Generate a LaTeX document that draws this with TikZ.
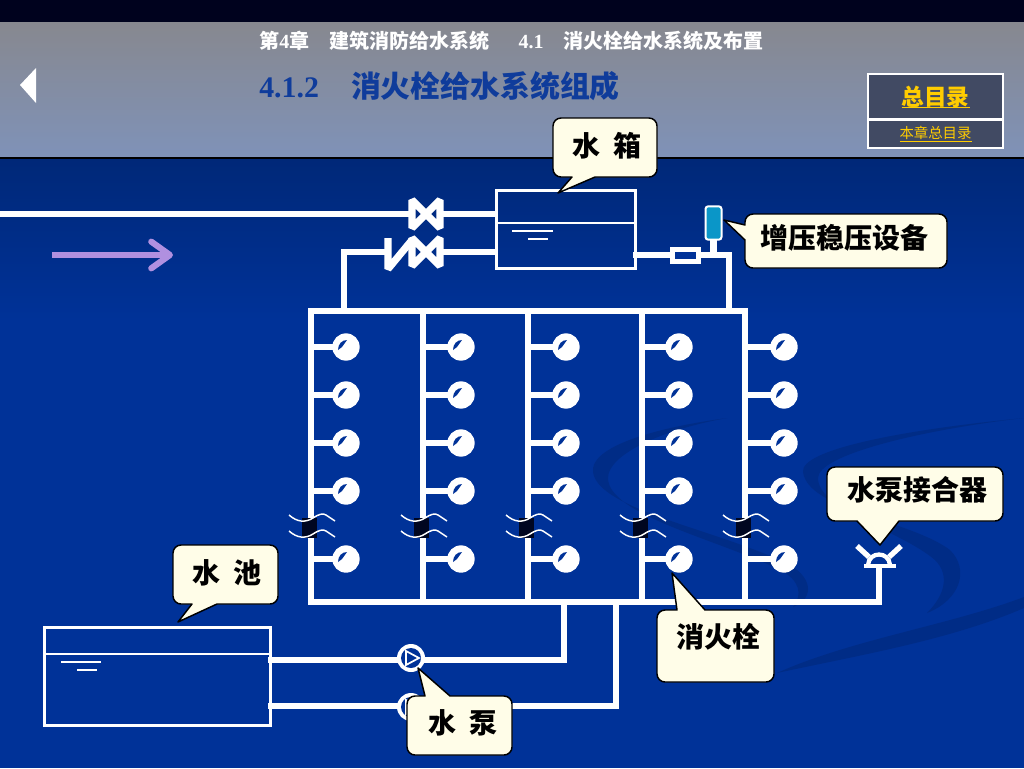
\documentclass[tikz,border=0pt]{standalone}
\usepackage{fontspec}
\setmainfont{Liberation Serif}
\newfontfamily\cjk{Noto Sans CJK SC}
\usetikzlibrary{arrows.meta,positioning}
\definecolor{topbar}{RGB}{0,2,30}
\definecolor{headtop}{RGB}{135,136,143}
\definecolor{headlow}{RGB}{127,146,184}
\definecolor{navytop}{RGB}{0,40,120}
\definecolor{navylow}{RGB}{0,50,152}
\definecolor{swirl}{RGB}{0,44,134}
\definecolor{titleblue}{RGB}{15,60,155}
\definecolor{tocfill}{RGB}{65,74,99}
\definecolor{tocgold}{RGB}{255,204,0}
\definecolor{bubblefill}{RGB}{255,253,232}
\definecolor{flowpurple}{RGB}{176,144,224}
\definecolor{devicecyan}{RGB}{10,150,200}
\definecolor{breakblack}{RGB}{0,6,32}
\tikzset{
	pipe/.style={
		draw=white,
		line width=4.7pt,
		line cap=rect,
		line join=miter
	},
	level/.style={
		draw=white,
		line width=1.2pt
	},
	vessel/.style={
		draw=white,
		line width=2.25pt,
		outer sep=0pt,
		inner sep=0pt
	},
	hydrant/.style={
		circle,
		fill=white,
		minimum size=20.5pt,
		inner sep=0pt,
		path picture={
			\fill[navylow,shift={(path picture bounding box.center)}]
			(-8,3) .. controls (-8,-3) and (-4,-7) .. (1,-7) -- (-4,0) -- cycle;
		}
	},
	pump/.style={
		circle,
		fill=white,
		minimum size=21pt,
		inner sep=0pt,
		path picture={
			\begin{scope}[shift={(path picture bounding box.center)}]
				\fill[navylow] (0,0) circle (10);
				\draw[white,line width=1.3pt,fill=navylow] (-5,-7) -- (8,0) -- (-5,7) -- cycle;
			\end{scope}
		}
	},
	valvestroke/.style={
		draw=white,
		line width=5.4pt,
		line join=bevel
	},
	breakmark/.style={
		rectangle,
		fill=breakblack,
		minimum width=11.25pt,
		minimum height=15pt,
		inner sep=0pt
	},
	wave/.style={
		draw=white,
		line width=1.1pt
	},
	bubble/.style={
		draw=black,
		fill=bubblefill,
		line width=1.1pt,
		line join=round
	},
	bubbletext/.style={
		inner sep=0pt,
		font=\cjk\bfseries\fontsize{21pt}{24pt}\selectfont
	},
	tocbox/.style={
		draw=white,
		line width=1.5pt,
		fill=tocfill,
		text=tocgold,
		inner sep=0pt,
		text depth=0pt,
		minimum width=101pt
	}
}

\begin{document}
\begin{tikzpicture}[x=0.75pt,y=-0.75pt]
	\useasboundingbox (0,0) rectangle (1024,768);
	
	% --- BACKGROUND ---
	\fill[navylow] (0,158) rectangle (1024,768);
	\shade[top color=navytop,bottom color=navylow] (0,158) rectangle (1024,320);
	\fill[swirl] (727,418) .. controls (640,430) and (590,450) .. (593,472)
	.. controls (598,510) and (720,530) .. (790,565)
	.. controls (815,580) and (812,600) .. (793,607)
	.. controls (803,595) and (800,580) .. (780,570)
	.. controls (720,540) and (608,515) .. (608,478)
	.. controls (608,455) and (660,430) .. (727,418) -- cycle;
	\fill[swirl] (1024,418) .. controls (900,430) and (800,450) .. (803,472)
	.. controls (808,510) and (910,520) .. (950,550)
	.. controls (970,570) and (960,600) .. (927,613)
	.. controls (945,595) and (950,575) .. (935,560)
	.. controls (900,530) and (818,510) .. (818,478)
	.. controls (818,455) and (920,430) .. (1024,418) -- cycle;
	\fill[swirl] (1024,597) .. controls (950,625) and (850,640) .. (777,673)
	.. controls (860,655) and (950,640) .. (1024,608) -- cycle;
	
	% --- HEADER ---
	\fill[topbar] (0,0) rectangle (1024,22);
	\shade[top color=headtop,bottom color=headlow] (0,22) rectangle (1024,157);
	\fill[black] (0,157) rectangle (1024,159);
	\fill[white] (36,68) -- (36,103) -- (20,85) -- cycle;
	
	\node[anchor=west,text=white,inner sep=0pt,font=\bfseries\fontsize{15pt}{18pt}\selectfont] (chapterline) at (259,41)
	{{\cjk 第}4{\cjk 章}\hspace{15pt}{\cjk 建筑消防给水系统}\hspace{22pt}4.1\hspace{15pt}{\cjk 消火栓给水系统及布置}};
	\node[anchor=west,text=titleblue,inner sep=0pt,font=\bfseries\fontsize{22.4pt}{26pt}\selectfont] (sectionline) at (259,86)
	{4.1.2\hspace{24pt}{\cjk 消火栓给水系统组成}};
	
	\node[tocbox,minimum height=33.5pt,text height=13pt,font=\cjk\bfseries\fontsize{17pt}{20pt}\selectfont] (tocmain) at (935.5,96.5) {\underline{\smash{总目录}}};
	\node[tocbox,minimum height=21pt,text height=8.2pt,font=\cjk\fontsize{10.8pt}{13pt}\selectfont] (tocsub) at (935.5,133.5) {\underline{\smash{本章总目录}}};
	
	% --- FLOW ARROW ---
	\coordinate (flowstart) at (52,255);
	\coordinate (flowend) at (173,255);
	\draw[flowpurple,line width=4.6pt,-{Straight Barb[length=14pt,width=20pt,round]}] (flowstart) -- (flowend);
	
	% --- ROOF TANK AND VALVES ---
	\node[vessel,minimum width=104pt,minimum height=58pt] (tank) at (566,229.5) {};
	\draw[level] (tank.west |- 0,223) -- (tank.east |- 0,223);
	\draw[level] (512,231) -- (553,231);
	\draw[level] (528,239) -- (548,239);
	
	\coordinate (supply) at (0,214);
	\coordinate (valveAl) at (412,214);
	\coordinate (valveAr) at (440,214);
	\coordinate (valveBl) at (412,252);
	\coordinate (valveBr) at (440,252);
	\coordinate (checkl) at (388,252);
	\coordinate (downleft) at (344,252);
	\coordinate (ringleft) at (344,311);
	\draw[pipe,line cap=butt] (supply) -- (valveAl);
	\draw[pipe,line cap=butt] (valveAr) -- (tank.west |- valveAr);
	\draw[pipe,line cap=butt] (valveBr) -- (tank.west |- valveBr);
	\draw[pipe] (checkl) -- (downleft) -- (ringleft);
	\foreach \yv in {214,252} {
		\draw[valvestroke] (412,\yv-14) -- (440,\yv+14) -- (440,\yv-14) -- (412,\yv+14) -- cycle;
	}
	\draw[valvestroke,line cap=butt] (388,238) -- (388,269) -- (412,240);
	
	% --- PRESSURE DEVICE ---
	\coordinate (tankout) at (636,255);
	\coordinate (downright) at (729,255);
	\coordinate (ringright) at (729,311);
	\coordinate (stemfoot) at (714,255);
	\draw[pipe] (tankout) -- (downright) -- (ringright);
	\node[vessel,draw=white,line width=1.5pt,fill=devicecyan,rounded corners=2pt,minimum width=12pt,minimum height=25pt] (device) at (713.5,223) {};
	\draw[pipe,line cap=butt] (device.south) -- (device.south |- stemfoot);
	\node[vessel,line width=3.75pt,fill=navylow,minimum width=19.5pt,minimum height=9pt] (meter) at (685.5,255) {};
	
	% --- RING MAIN ---
	\coordinate (ringnw) at (311,311);
	\coordinate (ringne) at (745,311);
	\coordinate (ringsw) at (311,602);
	\coordinate (ringse) at (745,602);
	\coordinate (adapterfoot) at (879,602);
	\coordinate (adapterbase) at (879,567);
	\draw[pipe] (ringnw) -- (ringne);
	\draw[pipe] (ringsw) -- (adapterfoot) -- (adapterbase);
	
	% --- RISERS AND HYDRANTS ---
	\foreach \col/\xv/\xh in {a/311/346,b/423/461,c/528/566,d/642/679,e/745/784} {
		\coordinate (top\col) at (\xv,311);
		\coordinate (low\col) at (\xv,602);
		\draw[pipe] (top\col) -- (low\col);
		\foreach \row/\yh in {1/347,2/395,3/443,4/491,5/559} {
			\node[hydrant] (hyd\col\row) at (\xh,\yh) {};
			\coordinate (tee\col\row) at (\xv,\yh);
			\draw[pipe,line width=4pt] (tee\col\row) -- (hyd\col\row);
		}
		\node[breakmark] (brk\col) at (\xv-1.5,528) {};
		\foreach \yw in {0,16} {
			\draw[wave,shift={(\xv,\yw)}] (-22,515) .. controls (-14,522) and (-6,523) .. (2,518)
			.. controls (8,514) and (12,513) .. (15,515) -- (24,521);
		}
	}
	
	% --- PUMP ADAPTER ---
	\draw[pipe,line width=3.6pt] (866,566) -- (894,566);
	\draw[pipe,line width=3.2pt,line cap=butt] (868,565) .. controls (869,551) and (889,551) .. (890,565);
	\draw[pipe,line width=4pt,line cap=butt] (857,546) -- (869,557);
	\draw[pipe,line width=4pt,line cap=butt] (901,546) -- (889,557);
	
	% --- POOL AND PUMPS ---
	\node[vessel,minimum width=170pt,minimum height=74pt] (pool) at (157.5,676.5) {};
	\draw[level] (pool.west |- 0,654) -- (pool.east |- 0,654);
	\draw[level] (61,662) -- (101,662);
	\draw[level] (77,670) -- (97,670);
	
	\coordinate (riserA) at (564,660);
	\coordinate (riserAtop) at (564,602);
	\coordinate (riserB) at (616,706);
	\coordinate (riserBtop) at (616,602);
	\draw[pipe,line width=3.9pt] (pool.east |- riserA) -- (riserA) -- (riserAtop);
	\draw[pipe,line width=3.9pt] (pool.east |- riserB) -- (riserB) -- (riserBtop);
	\node[pump] (pumpA) at (411,658) {};
	\node[pump] (pumpB) at (411,707) {};
	
	% --- CALLOUTS ---
	\draw[bubble,rounded corners=6pt] (553,118) -- (657,118) -- (657,177) [sharp corners] -- (595,177) -- (558,193) -- (572,177) [rounded corners=6pt] -- (553,177) -- cycle;
	\node[bubbletext] (tanktag) at (607,146) {水\hspace{10pt}箱};
	
	\draw[bubble,rounded corners=6pt] (745,214) -- (947,214) -- (947,268) -- (745,268) [sharp corners] -- (745,240) -- (724,220) -- (745,225) [rounded corners=6pt] -- cycle;
	\node[bubbletext] (devicetag) at (844,238) {增压稳压设备};
	
	\draw[bubble,rounded corners=6pt] (827,467) -- (1003,467) -- (1003,521) [sharp corners] -- (899,521) -- (880,545) -- (857,521) [rounded corners=6pt] -- (827,521) -- cycle;
	\node[bubbletext] (adaptertag) at (917,490) {水泵接合器};
	
	\draw[bubble,rounded corners=6pt] (173,545) -- (278,545) -- (278,604) [sharp corners] -- (217,604) -- (178,622) -- (192,604) [rounded corners=6pt] -- (173,604) -- cycle;
	\node[bubbletext] (pooltag) at (227,573) {水\hspace{10pt}池};
	
	\draw[bubble,rounded corners=6pt] (657,610) [sharp corners] -- (677,610) -- (672,573) -- (705,610) [rounded corners=6pt] -- (774,610) -- (774,682) -- (657,682) -- cycle;
	\node[bubbletext] (hydranttag) at (718,637) {消火栓};
	
	\draw[bubble,rounded corners=6pt] (407,696) [sharp corners] -- (425,696) -- (418,668) -- (450,696) [rounded corners=6pt] -- (512,696) -- (512,755) -- (407,755) -- cycle;
	\node[bubbletext] (pumptag) at (463,723) {水\hspace{10pt}泵};
	
\end{tikzpicture}
\end{document}
